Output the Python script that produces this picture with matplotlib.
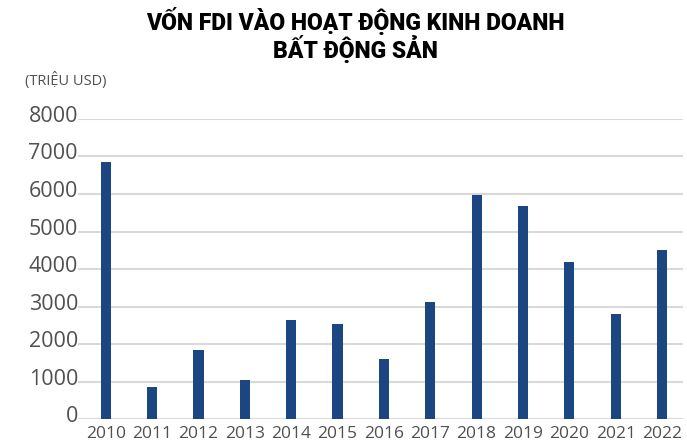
import matplotlib
matplotlib.use('Agg')
import matplotlib.pyplot as plt
import matplotlib.transforms as mtransforms

# data (million USD)
years = ['2010', '2011', '2012', '2013', '2014', '2015', '2016',
         '2017', '2018', '2019', '2020', '2021', '2022']
fdi_values = [6850, 860, 1840, 1040, 2640, 2530, 1600,
              3120, 5970, 5680, 4190, 2800, 4510]
y_ticks = [0, 1000, 2000, 3000, 4000, 5000, 6000, 7000, 8000]

title = 'VỐN FDI VÀO HOẠT ĐỘNG KINH DOANH\nBẤT ĐỘNG SẢN'
unit_label = '(TRIỆU USD)'

bar_color = '#1b4681'
grid_color = '#d9d9d9'
text_color = '#505050'

fig = plt.figure(figsize=(6.87, 4.45), dpi=100)
ax = fig.add_axes([0.1135, 0.0584, 0.8805, 0.6742])

x = range(len(years))
ax.bar(x, fdi_values, width=0.22, color=bar_color, zorder=3)

ax.set_xlim(-0.6, 12.45)
ax.set_ylim(0, 8000)
ax.set_yticks(y_ticks)
ax.set_yticklabels([str(v) for v in y_ticks])
ax.set_xticks(list(x))
ax.set_xticklabels(years)

for s in ax.spines.values():
    s.set_visible(False)
ax.grid(axis='y', color=grid_color, linewidth=1.5, zorder=0)
ax.tick_params(axis='both', length=0)
ax.tick_params(axis='y', pad=0, labelsize=15.5, labelcolor=text_color)
ax.tick_params(axis='x', pad=5, labelsize=12.5, labelcolor=text_color)

# y labels sit a bit above their grid line
shift = mtransforms.ScaledTranslation(0, 5 / 100, fig.dpi_scale_trans)
for lab in ax.get_yticklabels():
    lab.set_fontfamily(['Open Sans', 'DejaVu Sans'])
    lab.set_transform(lab.get_transform() + shift)
for lab in ax.get_xticklabels():
    lab.set_fontfamily(['Open Sans', 'DejaVu Sans'])

fig.text(0.517, 0.985, title, ha='center', va='top', fontsize=16.5,
         fontweight='black', family=['Roboto', 'DejaVu Sans'],
         linespacing=1.0, color='black')
fig.text(0.036, 0.82, unit_label, ha='left', va='center', fontsize=10.5,
         family=['Open Sans', 'DejaVu Sans'], color=text_color)

fig.savefig('out.png', dpi=100)
